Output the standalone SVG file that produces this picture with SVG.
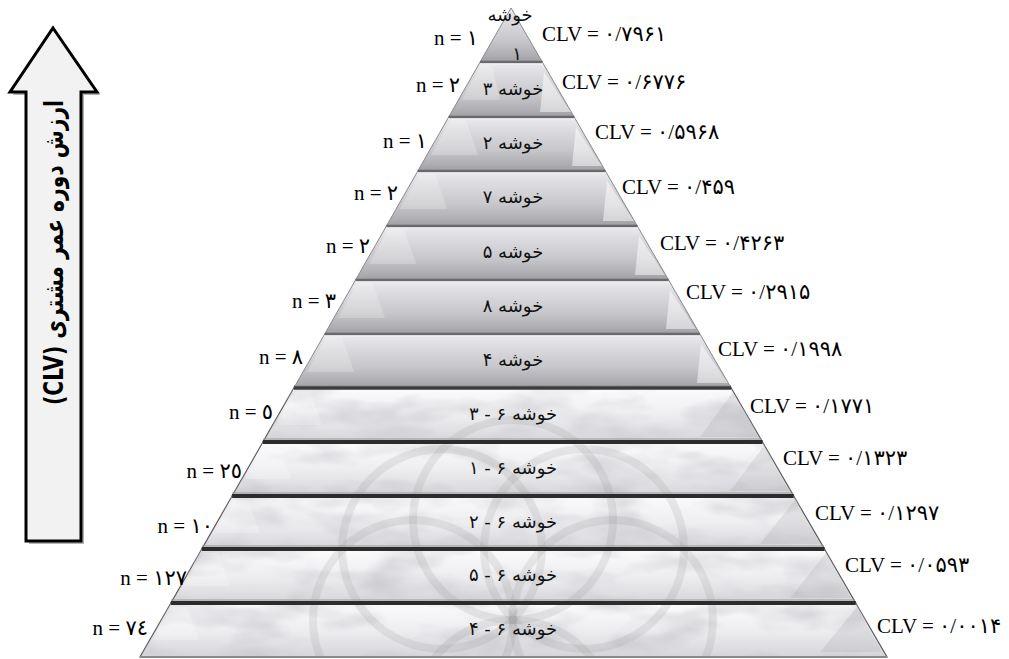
<svg xmlns="http://www.w3.org/2000/svg" width="1009" height="659" viewBox="0 0 1009 659">
<defs>
<style>
.lab{font-family:"Liberation Serif","DejaVu Sans",serif;font-size:21px;fill:#000}
.nl{text-anchor:end}
.bl{font-family:"DejaVu Sans","Noto Sans",sans-serif;font-size:18px;fill:#111;text-anchor:middle}
.up{fill:url(#gU);stroke:#8a8a8e;stroke-width:1}
.lo{fill:url(#gL);stroke:#5a5a5a;stroke-width:1.2}
.hl{fill:#fff;opacity:.22}
.hr{fill:#fff;opacity:.5}
.sd{fill:#9a9aa0;opacity:.2}
.sepU{stroke:#6a6a6e;stroke-width:2.5}
.sepUl{stroke:#f4f4f6;stroke-width:1.2}
.sepL{stroke:#2c2c2c;stroke-width:4}
.sepLl{stroke:#9a9a9a;stroke-width:1.2}
.ros{fill:none;stroke:#8c8c90;stroke-width:8;opacity:.17}
</style>
<linearGradient id="gU" x1="0" y1="0" x2="0" y2="1">
<stop offset="0" stop-color="#ececee"/>
<stop offset="0.2" stop-color="#dedee2"/>
<stop offset="0.6" stop-color="#c8c8cc"/>
<stop offset="0.88" stop-color="#adadb2"/>
<stop offset="1" stop-color="#9e9ea3"/>
</linearGradient>
<linearGradient id="gL" x1="0" y1="0" x2="0" y2="1">
<stop offset="0" stop-color="#fbfbfc"/>
<stop offset="0.5" stop-color="#eeeef1"/>
<stop offset="1" stop-color="#d6d6da"/>
</linearGradient>
<filter id="marble" x="0" y="0" width="1" height="1">
<feTurbulence type="fractalNoise" baseFrequency="0.014 0.035" numOctaves="3" seed="7"/>
<feColorMatrix type="matrix" values="0 0 0 0 0.52  0 0 0 0 0.52  0 0 0 0 0.56  2.4 0 0 0 -1.05"/>
</filter>
<clipPath id="cLow"><polygon points="293.8,388 731.2,388 887,657 140,657"/></clipPath>
</defs>

<g id="axis-arrow">
<polygon points="56,31 100,95 84,95 84,544 29,544 29,95 13,95" fill="#b4b4b8"/>
<polygon points="53,28 97,92 81,92 81,541 26,541 26,92 10,92" fill="#f2f2f2" stroke="#000" stroke-width="3" stroke-linejoin="miter"/>
<text transform="translate(63,252.5) rotate(-90)" direction="rtl" text-anchor="middle" font-family="DejaVu Sans,Liberation Serif,sans-serif" font-weight="bold" font-size="26" textLength="305" lengthAdjust="spacingAndGlyphs">ارزش دوره عمر مشتری (CLV)</text>
</g>

<g id="pyramid-upper">
<polygon class="up" points="511,8 542.3,62 480.1,62"/>
<polygon class="up" points="480.1,62 542.3,62 574.2,117 448.7,117"/>
<polygon class="up" points="448.7,117 574.2,117 605.4,171 417.8,171"/>
<polygon class="up" points="417.8,171 605.4,171 637.3,226 386.4,226"/>
<polygon class="up" points="386.4,226 637.3,226 668.6,280 355.5,280"/>
<polygon class="up" points="355.5,280 668.6,280 699.9,334 324.7,334"/>
<polygon class="up" points="324.7,334 699.9,334 731.2,388 293.8,388"/>
<polygon class="hl" points="481,65 492,65 500,100 462,100"/>
<polygon class="hl" points="450,120 466,120 478,155 431,155"/>
<polygon class="hl" points="419,174 435,174 447,209 400,209"/>
<polygon class="hl" points="388,229 404,229 416,264 369,264"/>
<polygon class="hl" points="357,283 373,283 385,318 338,318"/>
<polygon class="hl" points="326,337 342,337 354,372 307,372"/>
<polygon class="hr" points="544,72 540,112 571,112"/>
<polygon class="hr" points="576,127 572,166 602,166"/>
<polygon class="hr" points="607,181 603,221 634,221"/>
<polygon class="hr" points="639,236 635,275 665,275"/>
<polygon class="hr" points="670,290 666,329 696,329"/>
<polygon class="hr" points="701,344 697,383 728,383"/>
</g>

<g id="pyramid-lower">
<polygon class="lo" points="293.8,388 731.2,388 762.5,442 262.9,442"/>
<polygon class="lo" points="262.9,442 762.5,442 793.7,496 232.1,496"/>
<polygon class="lo" points="232.1,496 793.7,496 824.5,549 201.8,549"/>
<polygon class="lo" points="201.8,549 824.5,549 855.7,603 170.9,603"/>
<polygon class="lo" points="170.9,603 855.7,603 887,657 140,657"/>
<g clip-path="url(#cLow)">
<rect x="140" y="388" width="747" height="270" filter="url(#marble)" opacity="0.6"/>
<circle class="ros" cx="613" cy="620" r="100"/>
<circle class="ros" cx="584" cy="549" r="100"/>
<circle class="ros" cx="513" cy="520" r="100"/>
<circle class="ros" cx="442" cy="549" r="100"/>
<circle class="ros" cx="413" cy="620" r="100"/>
<circle class="ros" cx="513" cy="720" r="100"/>
</g>
<polygon class="sd" points="700,437 758,437 733,392"/>
<polygon class="sd" points="730,491 789,491 764,446"/>
<polygon class="sd" points="760,544 820,544 795,500"/>
<polygon class="sd" points="790,598 851,598 826,553"/>
<polygon class="sd" points="820,652 882,652 857,607"/>
<polygon class="hl" points="296,392 310,392 322,425 276,425"/>
<polygon class="hl" points="265,446 279,446 291,479 245,479"/>
<polygon class="hl" points="234,500 248,500 260,533 214,533"/>
<polygon class="hl" points="204,553 218,553 230,586 184,586"/>
<polygon class="hl" points="173,607 187,607 199,640 153,640"/>
</g>

<g id="separators">
<line class="sepU" x1="480.1" y1="62" x2="542.3" y2="62"/>
<line class="sepUl" x1="480" y1="64" x2="543" y2="64"/>
<line class="sepU" x1="448.7" y1="117" x2="574.2" y2="117"/>
<line class="sepUl" x1="448" y1="119" x2="575" y2="119"/>
<line class="sepU" x1="417.8" y1="171" x2="605.4" y2="171"/>
<line class="sepUl" x1="417" y1="173" x2="606" y2="173"/>
<line class="sepU" x1="386.4" y1="226" x2="637.3" y2="226"/>
<line class="sepUl" x1="386" y1="228" x2="638" y2="228"/>
<line class="sepU" x1="355.5" y1="280" x2="668.6" y2="280"/>
<line class="sepUl" x1="355" y1="282" x2="669" y2="282"/>
<line class="sepU" x1="324.7" y1="334" x2="699.9" y2="334"/>
<line class="sepUl" x1="324" y1="336" x2="700" y2="336"/>
<line class="sepL" x1="293.8" y1="388" x2="731.2" y2="388" style="stroke:#3c3c3c;stroke-width:3.5"/>
<line class="sepLl" x1="294" y1="385.5" x2="731" y2="385.5"/>
<line class="sepL" x1="262.9" y1="442" x2="762.5" y2="442"/>
<line class="sepLl" x1="263" y1="439" x2="762" y2="439"/>
<line class="sepL" x1="232.1" y1="496" x2="793.7" y2="496"/>
<line class="sepLl" x1="232" y1="493" x2="793" y2="493"/>
<line class="sepL" x1="201.8" y1="549" x2="824.5" y2="549"/>
<line class="sepLl" x1="202" y1="546" x2="824" y2="546"/>
<line class="sepL" x1="170.9" y1="603" x2="855.7" y2="603"/>
<line class="sepLl" x1="171" y1="600" x2="855" y2="600"/>
<line x1="140" y1="657" x2="887" y2="657" stroke="#8a8a8a" stroke-width="2"/>
</g>

<g id="band-labels">
<text class="bl" x="510" y="21" font-size="14">خوشه</text>
<text class="bl" x="517" y="60">۱</text>
<text class="bl" x="513" y="95">خوشه ۳</text>
<text class="bl" x="513" y="149">خوشه ۲</text>
<text class="bl" x="513" y="203">خوشه ۷</text>
<text class="bl" x="513" y="258">خوشه ۵</text>
<text class="bl" x="513" y="312">خوشه ۸</text>
<text class="bl" x="513" y="366">خوشه ۴</text>
<text class="bl" x="513" y="420" direction="rtl">خوشه ۶ - ۳</text>
<text class="bl" x="513" y="474" direction="rtl">خوشه ۶ - ۱</text>
<text class="bl" x="513" y="528" direction="rtl">خوشه ۶ - ۲</text>
<text class="bl" x="513" y="581" direction="rtl">خوشه ۶ - ۵</text>
<text class="bl" x="513" y="635" direction="rtl">خوشه ۶ - ۴</text>
</g>

<g id="n-labels">
<text class="lab nl" x="478" y="45">n = ١</text>
<text class="lab nl" x="460" y="92">n = ٢</text>
<text class="lab nl" x="427" y="148">n = ١</text>
<text class="lab nl" x="398" y="200">n = ٢</text>
<text class="lab nl" x="370" y="253">n = ٢</text>
<text class="lab nl" x="336" y="308">n = ٣</text>
<text class="lab nl" x="303" y="364">n = ٨</text>
<text class="lab nl" x="273" y="419">n = ٥</text>
<text class="lab nl" x="242" y="478">n = ٢٥</text>
<text class="lab nl" x="213" y="533">n = ١٠</text>
<text class="lab nl" x="187" y="585">n = ١٢٧</text>
<text class="lab nl" x="148" y="635">n = ٧٤</text>
</g>

<g id="clv-labels">
<text class="lab" x="542" y="41">CLV = ۰/۷۹۶۱</text>
<text class="lab" x="562" y="89">CLV = ۰/۶۷۷۶</text>
<text class="lab" x="595" y="139">CLV = ۰/۵۹۶۸</text>
<text class="lab" x="622" y="194">CLV = ۰/۴۵۹</text>
<text class="lab" x="660" y="250">CLV = ۰/۴۲۶۳</text>
<text class="lab" x="686" y="299">CLV = ۰/۲۹۱۵</text>
<text class="lab" x="718" y="356">CLV = ۰/۱۹۹۸</text>
<text class="lab" x="750" y="413">CLV = ۰/۱۷۷۱</text>
<text class="lab" x="783" y="465">CLV = ۰/۱۳۲۳</text>
<text class="lab" x="815" y="520">CLV = ۰/۱۲۹۷</text>
<text class="lab" x="845" y="572">CLV = ۰/۰۵۹۳</text>
<text class="lab" x="877" y="633">CLV = ۰/۰۰۱۴</text>
</g>
</svg>
